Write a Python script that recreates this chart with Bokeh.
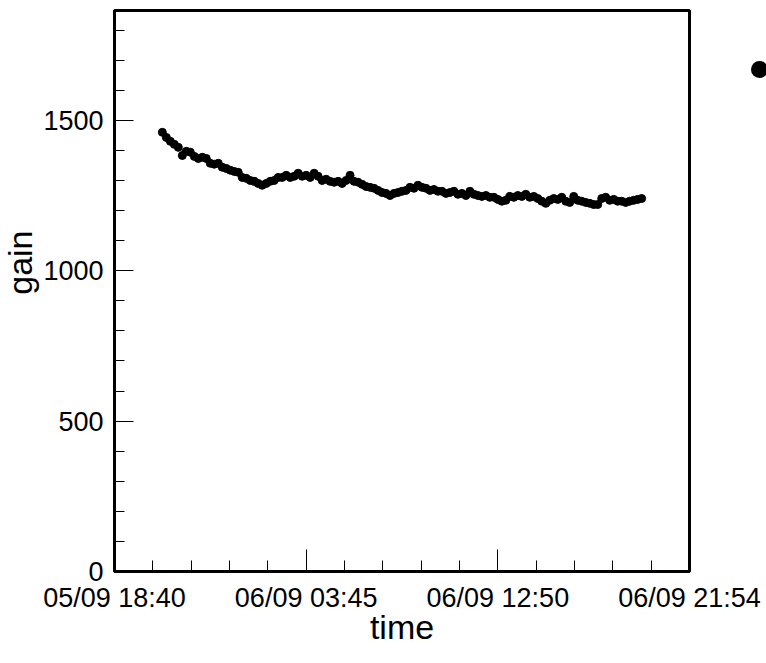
import pandas as pd
from bokeh.plotting import figure
from bokeh.models import (FixedTicker, Range1d, LinearAxis,
                          ColumnDataSource, Title)
from bokeh.embed import file_html
from bokeh.resources import INLINE

# ---- data ----
gain = [1460, 1443, 1430, 1420, 1410, 1383, 1397, 1394, 1380, 1373,
        1377, 1373, 1357, 1354, 1357, 1344, 1340, 1334, 1330, 1327,
        1310, 1307, 1300, 1297, 1290, 1284, 1290, 1297, 1300, 1310,
        1310, 1317, 1310, 1314, 1324, 1314, 1317, 1310, 1324, 1314,
        1300, 1304, 1297, 1294, 1297, 1290, 1300, 1317, 1297, 1294,
        1287, 1280, 1277, 1274, 1267, 1260, 1257, 1250, 1257, 1260,
        1264, 1267, 1277, 1274, 1284, 1277, 1274, 1267, 1270, 1264,
        1264, 1257, 1260, 1264, 1254, 1257, 1250, 1264, 1254, 1250,
        1247, 1250, 1244, 1244, 1237, 1231, 1234, 1247, 1244, 1250,
        1247, 1254, 1244, 1247, 1240, 1231, 1224, 1234, 1240, 1237,
        1244, 1231, 1227, 1247, 1234, 1231, 1227, 1224, 1220, 1220,
        1240, 1244, 1234, 1237, 1231, 1231, 1227, 1231, 1234, 1237,
        1240]
first_time = "2009-09-05 20:56"
last_time = "2009-09-06 19:38"
axis_start = "2009-09-05 18:40"
axis_end = "2009-09-06 21:54"
x_tick_labels = ["05/09 18:40", "06/09 03:45", "06/09 12:50", "06/09 21:54"]
y_ticks = [0, 500, 1000, 1500]
y_minor = [100, 200, 300, 400, 600, 700, 800, 900, 1100, 1200, 1300, 1400,
           1600, 1700, 1800]
y_max = 1865
legend_marker_y = 1669   # height of the (cut-off) legend marker

times = pd.date_range(first_time, last_time, periods=len(gain))


def ms(s):
    return int(pd.Timestamp(s).value // 10**6)


x0, x1 = ms(axis_start), ms(axis_end)
step = (x1 - x0) // 3
x_major = [x0 + k * step for k in range(4)]
x_minor = [x0 + k * (step // 5) for k in range(1, 15) if k % 5]

src = ColumnDataSource(dict(time=times, gain=gain))

p = figure(width=766, height=655, x_axis_type="datetime",
           x_range=Range1d(x0, x1), y_range=Range1d(0, y_max),
           output_backend="svg", toolbar_location=None, title=None,
           min_border_left=113, min_border_right=77,
           min_border_top=10, min_border_bottom=84)
p.xgrid.visible = False
p.ygrid.visible = False
p.outline_line_color = "black"
p.outline_line_width = 3
p.background_fill_color = "white"
p.border_fill_color = "white"

r = p.scatter("time", "gain", source=src, size=8, color="black")

for ax in (p.xaxis[0], p.yaxis[0]):
    ax.axis_line_width = 3
    ax.axis_line_color = "black"
    ax.major_tick_out = 0
    ax.minor_tick_out = 0
    ax.major_tick_line_color = "black"
    ax.minor_tick_line_color = "black"
    ax.major_label_text_font = "Liberation Sans"
    ax.major_label_text_font_size = "27px"
    ax.major_label_text_color = "black"
    ax.major_label_standoff = 11

xa = p.xaxis[0]
xa.ticker = FixedTicker(ticks=x_major, minor_ticks=x_minor)
xa.major_label_overrides = dict(zip(x_major, x_tick_labels))
xa.major_tick_in = 22
xa.minor_tick_in = 11
xa.axis_label = "time"
xa.axis_label_text_font = "Liberation Sans"
xa.axis_label_text_font_size = "34px"
xa.axis_label_text_font_style = "normal"
xa.axis_label_text_color = "black"
xa.axis_label_standoff = -8

ya = p.yaxis[0]
ya.ticker = FixedTicker(ticks=y_ticks, minor_ticks=y_minor)
ya.major_tick_in = 19
ya.minor_tick_in = 10

p.add_layout(Title(text="gain", align="right", offset=220,
                   vertical_align="top", standoff=0,
                   text_font="Liberation Sans", text_font_size="34px",
                   text_font_style="normal", text_color="black"), "left")

# cut-off legend marker at the right edge (ROOT legend box off-canvas)
marker_axis = LinearAxis(ticker=FixedTicker(ticks=[legend_marker_y], minor_ticks=[]),
                         axis_line_color=None,
                         major_tick_in=-70, major_tick_out=70,
                         major_tick_line_width=17, major_tick_line_cap="round",
                         major_tick_line_color="black",
                         minor_tick_line_color=None,
                         major_label_overrides={legend_marker_y: ""},
                         major_label_text_color=None,
                         major_label_text_font_size="1px",
                         major_label_standoff=0)
p.add_layout(marker_axis, "right")

open("out.html", "w").write(file_html(p, INLINE))
